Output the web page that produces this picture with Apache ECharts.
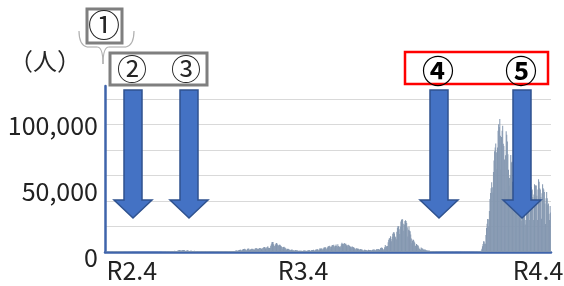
<!DOCTYPE html>
<html>
<head>
<meta charset="utf-8">
<script src="https://cdn.jsdelivr.net/npm/echarts@6/dist/echarts.min.js"></script>
<style>
  html, body { margin: 0; padding: 0; background: #fff; }
  #chart { width: 564px; height: 286px; }
</style>
</head>
<body>
<div id="chart"></div>
<script>
  // 日別の新規陽性者数（人）、2020-03-25 から
  const startDate = [2020, 2, 25];
  const cases2020 = [
    90, 100, 120, 200, 170, 90, 220,
    250, 240, 350, 360, 380, 260, 350, 510, 580, 640, 720, 510, 390, 460, 550, 580, 620, 570, 380, 360, 380, 430, 430, 440, 350, 200, 150, 260, 210, 190,
    260, 300, 200, 120, 120, 100, 90, 110, 110, 70, 50, 80, 60, 70, 90, 60, 50, 30, 30, 40, 40, 30, 40, 20, 20, 30, 40, 60, 50, 30, 50,
    40, 30, 50, 40, 50, 40, 40, 30, 40, 40, 40, 60, 50, 40, 70, 40, 40, 40, 60, 40, 50, 60, 60, 60, 100, 90, 90, 80, 60, 90,
    120, 130, 250, 270, 210, 100, 210, 200, 350, 430, 410, 400, 250, 330, 450, 620, 590, 660, 510, 420, 630, 800, 980, 780, 850, 840, 600, 980, 1260, 1300, 1580,
    1540, 1250, 960, 1230, 1360, 1480, 1600, 1560, 1440, 900, 700, 970, 1180, 1360, 1230, 1010, 650, 880, 1070, 1000, 1030, 870, 760, 500, 730, 940, 850, 880, 800, 620, 440,
    620, 590, 640, 650, 610, 460, 350, 500, 510, 630, 650, 600, 460, 260, 500, 550, 580, 630, 530, 470, 340, 290, 430, 490, 600, 480, 490, 450, 520, 580,
    630, 560, 580, 470, 310, 520, 500, 630, 600, 650, 400, 300, 490, 640, 700, 640, 570, 390, 340, 600, 630, 660, 700, 750, 510, 490, 730, 780, 830, 770, 880,
    600, 880, 860, 690, 1040, 1140, 1200, 1000, 960, 1270, 1550, 1660, 1700, 1730, 1440, 960, 1690, 2200, 2390, 2430, 2590, 2160, 1510, 1230, 1950, 2500, 2510, 2680, 2050, 1440,
    2030, 2430, 2510, 2440, 2520, 2060, 1500, 2050, 2810, 2970, 2790, 3040, 2390, 1700, 2420, 3210, 3050, 2990, 2980, 2490, 1800, 2960, 3270, 3740, 3820, 3870, 2930, 2390, 3600, 3850, 4520
  ];
  const cases2021 = [
    3240, 3080, 3150, 3320, 4900, 6000, 7570, 7880, 7790, 6100, 4870, 4540, 5870, 6600, 7130, 6720, 5760, 4930, 5320, 5700, 5640, 5000, 4700, 3980, 2750, 3850, 3960, 4120, 3530, 3340, 2660,
    1790, 2630, 2310, 2580, 2360, 1890, 1600, 1390, 1730, 1710, 1880, 1450, 1360, 1150, 920, 1300, 1530, 1310, 1380, 1240, 1080, 740, 900, 1070, 1060, 1060, 990, 720,
    700, 920, 1240, 1180, 1160, 1060, 1060, 610, 1060, 1250, 1300, 1320, 1300, 1060, 870, 1410, 1500, 1510, 1470, 1680, 1360, 800, 1530, 1910, 1980, 2000, 2060, 1780, 1190, 2050, 2840,
    2600, 2760, 2750, 2450, 1580, 2650, 3450, 3450, 3450, 3700, 2770, 1930, 3450, 4310, 4570, 4530, 4800, 4090, 2700, 4330, 5290, 5500, 5120, 5600, 4600, 3300, 4880, 5800, 4680, 4100,
    5980, 4680, 4310, 4050, 3460, 4440, 6050, 7230, 6470, 4870, 6220, 7050, 6870, 6260, 6420, 5250, 3680, 5240, 5730, 5300, 4940, 4700, 3950, 2970, 4140, 4340, 4000, 3740, 3600, 2900, 1770,
    2640, 2860, 2760, 2600, 2650, 2280, 1600, 2230, 2300, 2130, 1940, 1940, 1390, 920, 1430, 1730, 1750, 1580, 1550, 1300, 900, 1400, 1700, 1650, 1650, 1600, 1500, 1000, 1570, 1800,
    1770, 1900, 1870, 1630, 1140, 1840, 2180, 2240, 2240, 2330, 1950, 1500, 2380, 3190, 3420, 3440, 3100, 2340, 1400, 2300, 3760, 5400, 4220, 4230, 4700, 4690, 7630, 9570, 10700, 10740, 12340,
    10170, 8400, 12000, 14200, 15260, 15750, 14470, 12070, 11500, 10080, 15800, 18900, 20360, 20150, 17900, 14100, 19800, 23900, 25140, 25870, 25490, 22030, 16600, 21580, 24350, 24950, 24250, 22750, 19300, 12060, 17400,
    20000, 16800, 16300, 13700, 10600, 6800, 8800, 9800, 9300, 8200, 7200, 4700, 5100, 6300, 5700, 5300, 4900, 3550, 2600, 2200, 1800, 3500, 2900, 2800, 2600, 1950, 1050, 2000, 1950, 1580,
    1450, 1250, 1080, 620, 1100, 1130, 860, 740, 810, 690, 380, 600, 620, 520, 510, 500, 430, 240, 380, 390, 340, 330, 300, 260, 150, 270, 290, 280, 260, 280, 160,
    90, 160, 220, 130, 210, 190, 160, 100, 150, 220, 200, 200, 190, 140, 80, 120, 150, 130, 150, 140, 80, 50, 100, 80, 110, 110, 140, 90, 90, 120,
    110, 130, 130, 150, 130, 100, 110, 140, 190, 160, 170, 150, 110, 170, 180, 170, 220, 200, 140, 140, 260, 270, 280, 380, 360, 230, 260, 380, 400, 500, 540
  ];
  const cases2022 = [
    450, 550, 780, 1270, 2640, 4470, 6210, 8480, 8250, 6440, 6390, 13240, 18840, 22050, 25760, 25680, 20160, 32170, 41480, 46200, 49860, 54570, 50620, 46660, 62600, 71630, 78930, 81780, 84900, 78110, 64900,
    81780, 94930, 100000, 97800, 104100, 91000, 64600, 90100, 95000, 98800, 84800, 83000, 72500, 48000, 75700, 94600, 91800, 86600, 76500, 64500, 52000, 58000, 60200, 76000, 70000, 70700, 55000, 43000,
    65400, 72000, 66000, 66100, 62000, 54000, 35000, 60000, 73000, 61000, 58000, 56000, 47000, 24500, 54000, 57000, 54000, 49000, 40000, 34000, 21500, 25000, 41000, 44000, 51000, 46000, 40000, 25000, 44000, 53000, 51000,
    48000, 49000, 43000, 25000, 45000, 53000, 52000, 52000, 52000, 44000, 25000, 49000, 57000, 55000, 50000, 49000, 43000, 26000, 46000, 53000, 50000, 49000, 47000, 38000, 22000, 42000, 47000, 42000, 37000, 38000,
    30000, 25000, 36000, 31000
  ];
  const yLabelValues = [0, 50000, 100000];
  const tickLabels = ['R2.4', 'R3.4', 'R4.4'];
  const tickIndex = [46, 342, 748];

  const values = cases2020.concat(cases2021, cases2022);
  const dates = values.map(function (v, i) {
    const d = new Date(Date.UTC(startDate[0], startDate[1], startDate[2] + i));
    return d.toISOString().slice(0, 10);
  });

  const FONT = '"Noto Sans CJK JP", "Noto Sans", sans-serif';
  const AXIS_BLUE = '#3F64AB';

  // 矢印（上から下向き）
  function arrow(cx) {
    return {
      type: 'polygon',
      z: 100,
      shape: {
        points: [[cx - 9, 90], [cx + 9, 90], [cx + 9, 200], [cx + 19, 200], [cx, 218], [cx - 19, 200], [cx - 9, 200]]
      },
      style: { fill: '#4472C4', stroke: '#2F528F', lineWidth: 1.5 }
    };
  }
  function label(txt, x, y, size, bold) {
    return {
      type: 'text',
      z: 101,
      x: x,
      y: y,
      style: {
        text: txt,
        fill: bold ? '#000' : '#262626',
        fontSize: size,
        fontWeight: bold ? 'bold' : 'normal',
        fontFamily: FONT,
        align: 'center',
        verticalAlign: 'middle'
      }
    };
  }
  const braceStyle = { stroke: '#b0b0b0', lineWidth: 1.2, fill: 'none' };
  const labelRich = {
    p0: { fontSize: 25, fontFamily: FONT, color: '#222', padding: [11, 0, 0, 0] },
    p1: { fontSize: 25, fontFamily: FONT, color: '#222', padding: [6, 0, 0, 0] },
    p2: { fontSize: 25, fontFamily: FONT, color: '#222', padding: [3, 0, 0, 0] }
  };

  const chart = echarts.init(document.getElementById('chart'));
  chart.setOption({
    animation: false,
    grid: { left: 105, right: 13, top: 86, bottom: 34, outerBoundsMode: 'none' },
    xAxis: {
      type: 'category',
      data: dates,
      boundaryGap: true,
      axisTick: { show: false },
      axisLine: { show: true, lineStyle: { color: AXIS_BLUE, width: 2.5 } },
      splitLine: { show: false },
      axisLabel: {
        interval: function (i) { return tickIndex.indexOf(i) >= 0; },
        formatter: function (v, i) { const k = tickIndex.indexOf(i); return k >= 0 ? tickLabels[k] : ''; },
        fontSize: 25,
        fontFamily: FONT,
        color: '#222',
        margin: 6
      }
    },
    yAxis: [
      {
        type: 'value',
        position: 'left',
        min: 0,
        max: 130000,
        interval: 20000,
        axisLine: { show: true, lineStyle: { color: AXIS_BLUE, width: 2.5 } },
        axisTick: { show: false },
        axisLabel: { show: false },
        splitLine: { show: true, showMaxLine: false, lineStyle: { color: '#d9d9d9', width: 1 } }
      },
      {
        type: 'value',
        position: 'left',
        min: 0,
        max: 130000,
        interval: 50000,
        axisLine: { show: false },
        axisTick: { show: false },
        splitLine: { show: false },
        axisLabel: {
          formatter: function (v) {
            const k = yLabelValues.indexOf(v);
            return k >= 0 ? '{p' + k + '|' + v.toLocaleString('en-US') + '}' : '';
          },
          rich: labelRich,
          fontSize: 25,
          fontFamily: FONT,
          color: '#222',
          margin: 7
        }
      }
    ],
    series: [{
      type: 'bar',
      yAxisIndex: 0,
      data: values,
      barCategoryGap: '0%',
      itemStyle: { color: '#8497B0' }
    }],
    graphic: [
      { type: 'text', z: 101, x: 45, y: 61, style: { text: '（人）', fill: '#262626', fontSize: 24, fontFamily: FONT, align: 'center', verticalAlign: 'middle' } },
      // ① の下のかっこ
      { type: 'bezierCurve', z: 99, shape: { x1: 79, y1: 31, x2: 87, y2: 47, cpx1: 79, cpy1: 45 }, style: braceStyle },
      { type: 'line', z: 99, shape: { x1: 87, y1: 47, x2: 97, y2: 47 }, style: braceStyle },
      { type: 'bezierCurve', z: 99, shape: { x1: 97, y1: 47, x2: 103, y2: 64, cpx1: 103, cpy1: 47 }, style: braceStyle },
      { type: 'bezierCurve', z: 99, shape: { x1: 103, y1: 64, x2: 109, y2: 47, cpx1: 103, cpy1: 47 }, style: braceStyle },
      { type: 'line', z: 99, shape: { x1: 109, y1: 47, x2: 126, y2: 47 }, style: braceStyle },
      { type: 'bezierCurve', z: 99, shape: { x1: 126, y1: 47, x2: 134, y2: 31, cpx1: 134, cpy1: 45 }, style: braceStyle },
      { type: 'rect', z: 100, shape: { x: 87, y: 9, width: 35, height: 34 }, style: { fill: '#fff', stroke: '#7f7f7f', lineWidth: 3 } },
      label('①', 104, 25, 32, false),
      { type: 'rect', z: 100, shape: { x: 110, y: 53, width: 97, height: 32 }, style: { fill: '#fff', stroke: '#7f7f7f', lineWidth: 3 } },
      label('②', 132, 69, 30, false),
      label('③', 186, 69, 30, false),
      { type: 'rect', z: 100, shape: { x: 405, y: 52, width: 143, height: 32 }, style: { fill: '#fff', stroke: '#ff0000', lineWidth: 2.5 } },
      label('④', 438, 71, 32, true),
      label('⑤', 521, 71, 32, true),
      arrow(133),
      arrow(189),
      arrow(439),
      arrow(522)
    ]
  });
</script>
</body>
</html>
